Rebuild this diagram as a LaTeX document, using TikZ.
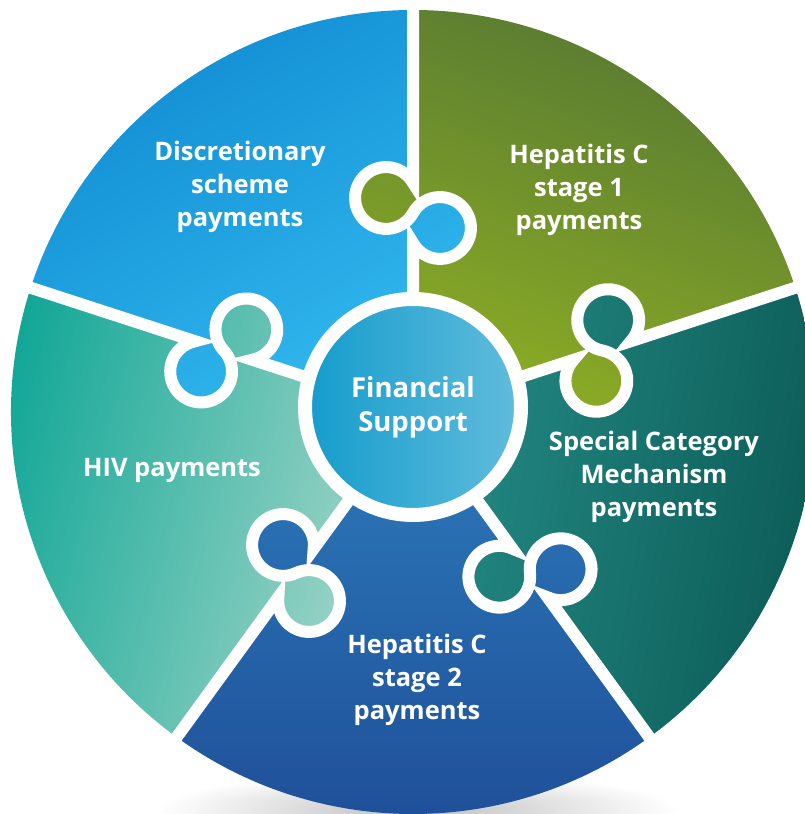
\documentclass[tikz,border=0pt]{standalone}
\usepackage{fontspec}
\setmainfont{Open Sans}
\usepackage{tikz}

\definecolor{discdark}{RGB}{16,140,210}
\definecolor{disclight}{RGB}{50,184,238}
\definecolor{hepadark}{RGB}{86,120,50}
\definecolor{hepalight}{RGB}{142,174,36}
\definecolor{scmdark}{RGB}{10,88,84}
\definecolor{scmlight}{RGB}{34,134,128}
\definecolor{hepbtop}{RGB}{42,114,180}
\definecolor{hepbbot}{RGB}{30,78,152}
\definecolor{hivdark}{RGB}{16,166,150}
\definecolor{hivlight}{RGB}{150,210,196}
\definecolor{finleft}{RGB}{20,156,204}
\definecolor{finright}{RGB}{98,188,220}

\begin{document}
\begin{tikzpicture}[x=1pt,y=1pt,
  sep/.style={draw=white,line width=12pt},
  piecetext/.style={text=white,align=center,font=\bfseries\fontsize{25.5}{33}\selectfont}]
  \useasboundingbox (0,0) rectangle (805,814);
  \clip (0,0) rectangle (805,814);
  \shade[inner color=gray!50,outer color=white] (418,4) ellipse (260 and 38);
  \begin{scope}[shift={(413,402)}]
    \foreach \ang/\ca/\cb/\sh in {90/discdark/disclight/30,18/hepadark/hepalight/-20,-54/scmdark/scmlight/-100,-126/hepbtop/hepbbot/0,162/hivdark/hivlight/75}{
      \pgfmathsetmacro\nxt{\ang+72}
      \shade[top color=\ca,bottom color=\cb,shading angle=\sh]
        (\ang:100) -- (\ang:169)
        arc[start angle=\ang+119.05,end angle=\ang+420.95,radius=30.9]
        arc[start angle=\ang+240.95,end angle=\ang-60.95,radius=30.9]
        -- (\ang:402) arc[start angle=\ang,end angle=\nxt,radius=402]
        -- (\nxt:229)
        arc[start angle=\nxt-60.95,end angle=\nxt+240.95,radius=30.9]
        arc[start angle=\nxt+420.95,end angle=\nxt+119.05,radius=30.9]
        -- (\nxt:100) -- cycle;
    }
    \foreach \ang in {90,18,-54,-126,162}
      \draw[sep] (\ang:100) -- (\ang:169)
        arc[start angle=\ang+119.05,end angle=\ang+420.95,radius=30.9]
        arc[start angle=\ang+240.95,end angle=\ang-60.95,radius=30.9]
        -- (\ang:420);
    \node[circle,minimum size=216pt,inner sep=0pt,draw=white,line width=14pt,
      left color=finleft,right color=finright,piecetext,
      font=\bfseries\fontsize{27.5}{34}\selectfont] (fin) at (0,5) {Financial\\Support};
  \end{scope}
  \node[piecetext] (disc) at (240,627) {Discretionary\\scheme\\payments};
  \node[piecetext] (hepa) at (579,624) {Hepatitis C\\stage 1\\payments};
  \node[piecetext] (scm) at (654,337) {Special Category\\Mechanism\\payments};
  \node[piecetext] (hiv) at (172,344) {HIV payments};
  \node[piecetext] (hepb) at (417,134) {Hepatitis C\\stage 2\\payments};
\end{tikzpicture}
\end{document}
